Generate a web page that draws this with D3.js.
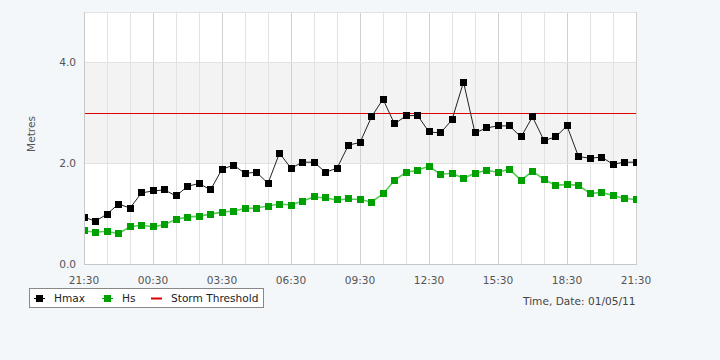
<!DOCTYPE html>
<html>
<head>
<meta charset="utf-8">
<script src="https://cdn.jsdelivr.net/npm/d3@7"></script>
<style>
  html, body { margin: 0; padding: 0; background: #f4f7fa; }
  svg { display: block; font-family: "DejaVu Sans", sans-serif; }
</style>
</head>
<body>
<svg id="chart" width="720" height="360"></svg>
<script>
// ---- data ----
const startTime = "2011-04-30T21:30";   // first reading, 30-minute interval
const intervalMinutes = 30;
const hmax = [0.93, 0.85, 0.99, 1.19, 1.11, 1.41, 1.45, 1.47, 1.35, 1.54, 1.60, 1.47,
  1.88, 1.96, 1.80, 1.82, 1.60, 2.20, 1.90, 2.02, 2.02, 1.82, 1.90, 2.36, 2.41,
  2.92, 3.27, 2.78, 2.94, 2.95, 2.62, 2.60, 2.86, 3.61, 2.60, 2.70, 2.74, 2.74,
  2.52, 2.92, 2.45, 2.52, 2.74, 2.13, 2.10, 2.12, 1.98, 2.02, 2.02];
const hs = [0.66, 0.63, 0.65, 0.60, 0.74, 0.77, 0.74, 0.78, 0.89, 0.93, 0.95, 0.99,
  1.03, 1.05, 1.10, 1.11, 1.15, 1.19, 1.17, 1.25, 1.33, 1.31, 1.27, 1.29, 1.28,
  1.23, 1.39, 1.66, 1.82, 1.86, 1.94, 1.78, 1.80, 1.70, 1.80, 1.86, 1.82, 1.88,
  1.66, 1.84, 1.68, 1.56, 1.58, 1.56, 1.40, 1.42, 1.36, 1.30, 1.28];
const stormThreshold = 3.0;
const yTicks = [0, 2, 4];
const xTickLabels = ["21:30", "00:30", "03:30", "06:30", "09:30", "12:30", "15:30", "18:30", "21:30"];
const legendLabels = ["Hmax", "Hs", "Storm Threshold"];
const dateLabel = "Time, Date: 01/05/11";
const yLabel = "Metres";

// ---- layout ----
const FS = 10.6;
const svg = d3.select("#chart");
const L = 84, R = 636, T = 12, B = 264;
const parse = d3.timeParse("%Y-%m-%dT%H:%M");
const t0 = parse(startTime);
const times = hmax.map((_, i) => d3.timeMinute.offset(t0, i * intervalMinutes));
const tEnd = times[times.length - 1];

const x = d3.scaleTime().domain([t0, tEnd]).range([L, R]);
const y = d3.scaleLinear().domain([0, 5]).range([B, T]);

// plot background
svg.append("rect").attr("x", L).attr("y", T).attr("width", R - L).attr("height", B - T).attr("fill", "#fff");
// band 2-4
svg.append("rect").attr("x", L).attr("y", y(4)).attr("width", R - L).attr("height", y(2) - y(4)).attr("fill", "#f3f3f3");

// vertical gridlines every hour, starting at first reading
const hourTicks = d3.range(0, 25).map(k => d3.timeMinute.offset(t0, k * 60));
svg.append("g").selectAll("line").data(hourTicks).join("line")
  .attr("x1", d => Math.round(x(d)) + 0.5).attr("x2", d => Math.round(x(d)) + 0.5)
  .attr("y1", T).attr("y2", B)
  .attr("stroke", (d, i) => i % 3 === 0 ? "#d0d0d0" : "#e2e2e2").attr("stroke-width", 1);

// horizontal gridlines
svg.append("g").selectAll("line").data(yTicks.filter(v => v > 0).concat([5])).join("line")
  .attr("x1", L).attr("x2", R)
  .attr("y1", d => Math.round(y(d)) + 0.5).attr("y2", d => Math.round(y(d)) + 0.5)
  .attr("stroke", "#e2e2e2");

// threshold line
svg.append("line").attr("x1", L).attr("x2", R)
  .attr("y1", Math.round(y(stormThreshold)) + 0.5).attr("y2", Math.round(y(stormThreshold)) + 0.5)
  .attr("stroke", "#e00000").attr("stroke-width", 1);

// clip
svg.append("defs").append("clipPath").attr("id", "clip")
  .append("rect").attr("x", L).attr("y", T).attr("width", R - L + 1).attr("height", B - T);

const plot = svg.append("g").attr("clip-path", "url(#clip)");
const line = d3.line().x((d, i) => x(times[i])).y(d => y(d));

plot.append("path").datum(hs).attr("d", line).attr("fill", "none")
  .attr("stroke", "#55cc55").attr("stroke-width", 1.6);
plot.append("path").datum(hmax).attr("d", line).attr("fill", "none")
  .attr("stroke", "#222").attr("stroke-width", 1);

const ms = 7;
plot.append("g").selectAll("rect").data(hs).join("rect")
  .attr("x", (d, i) => Math.round(x(times[i]) - ms / 2)).attr("y", d => Math.round(y(d) - ms / 2))
  .attr("width", ms).attr("height", ms).attr("fill", "#00a000");
plot.append("g").selectAll("rect").data(hmax).join("rect")
  .attr("x", (d, i) => Math.round(x(times[i]) - ms / 2)).attr("y", d => Math.round(y(d) - ms / 2))
  .attr("width", ms).attr("height", ms).attr("fill", "#000");

// axes lines
svg.append("line").attr("x1", L + 0.5).attr("x2", L + 0.5).attr("y1", T).attr("y2", B).attr("stroke", "#c8c8c8");
svg.append("line").attr("x1", L).attr("x2", R + 1).attr("y1", B + 0.5).attr("y2", B + 0.5).attr("stroke", "#c8c8c8");

// y tick labels
svg.append("g").selectAll("text").data(yTicks).join("text")
  .attr("x", 76).attr("y", d => y(d) + 4)
  .attr("text-anchor", "end").attr("font-size", FS).attr("fill", "#555")
  .text(d => d3.format(".1f")(d));

// x tick labels every 3 hours
const labelTicks = hourTicks.filter((d, i) => i % 3 === 0);
svg.append("g").selectAll("text").data(labelTicks).join("text")
  .attr("x", d => x(d)).attr("y", 284)
  .attr("text-anchor", "middle").attr("font-size", FS).attr("fill", "#555")
  .text((d, i) => xTickLabels[i]);

// y label
svg.append("text").attr("transform", "translate(35,134) rotate(-90)")
  .attr("text-anchor", "middle").attr("font-size", FS).attr("fill", "#555").text(yLabel);

// date label
svg.append("text").attr("x", 523).attr("y", 305).attr("font-size", FS).attr("fill", "#444").text(dateLabel);

// legend
const lg = svg.append("g");
lg.append("rect").attr("x", 29.5).attr("y", 288.5).attr("width", 234).attr("height", 19)
  .attr("fill", "#fff").attr("stroke", "#888");
const items = [
  { x: 39, label: legendLabels[0], color: "#000", marker: true },
  { x: 107, label: legendLabels[1], color: "#00a000", marker: true },
  { x: 156, label: legendLabels[2], color: "#e00000", marker: false }
];
items.forEach(it => {
  lg.append("line").attr("x1", it.x - 5).attr("x2", it.x + 6).attr("y1", 298.5).attr("y2", 298.5)
    .attr("stroke", it.color).attr("stroke-width", it.marker ? 1 : 2);
  if (it.marker) lg.append("rect").attr("x", it.x - 3).attr("y", 295).attr("width", 7).attr("height", 7).attr("fill", it.color);
});
lg.append("text").attr("x", 54).attr("y", 302).attr("font-size", FS).attr("fill", "#222").text(legendLabels[0]);
lg.append("text").attr("x", 122).attr("y", 302).attr("font-size", FS).attr("fill", "#222").text(legendLabels[1]);
lg.append("text").attr("x", 171).attr("y", 302).attr("font-size", FS).attr("fill", "#222").text(legendLabels[2]);
</script>
</body>
</html>
